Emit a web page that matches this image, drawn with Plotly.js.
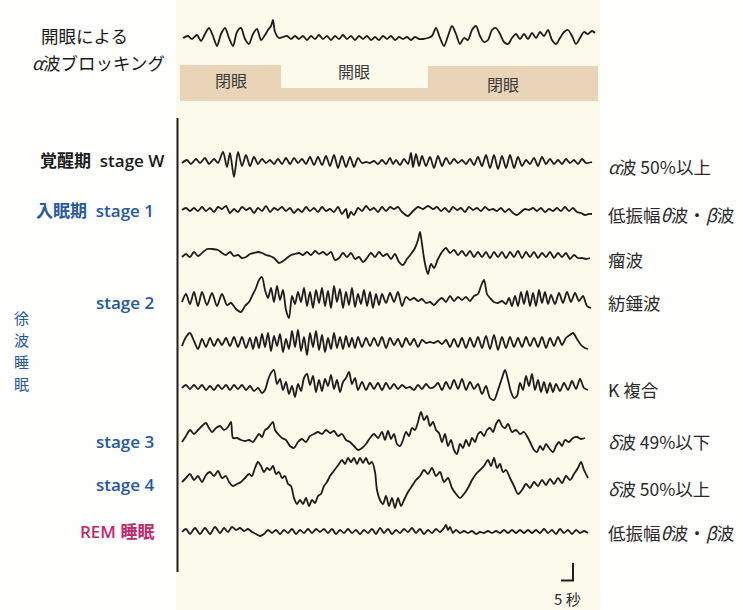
<!DOCTYPE html>
<html><head><meta charset="utf-8">
<script src="https://cdn.plot.ly/plotly-3.0.1.min.js"></script>
<style>html,body{margin:0;padding:0;background:#fefefc;}#chart{width:743px;height:610px;}</style>
</head><body><div id="chart"></div>
<script>
// Each EEG trace: [time position, deflection (up = positive)]
const eyeOpenBlocking = [[183,0],[188,2],[192,-1],[197,3],[201,-3],[205,4],[209,10],[213,2],[217,-8],[221,4],[225,10],[229,0],[233,-8],[237,6],[241,10],[245,-1],[249,-6],[253,4],[257,9],[261,-2],[265,3],[268,8],[271,12],[273,18],[275,6],[279,0],[283,1],[287,2],[291,-1],[295,2],[299,-1],[303,2],[307,-2],[311,2],[315,-1],[319,3],[323,-1],[327,2],[331,-2],[335,2],[339,-1],[343,3],[347,-1],[351,2],[355,-2],[359,2],[363,-1],[367,2],[371,-2],[375,1],[379,-2],[383,2],[387,-1],[391,2],[395,-2],[399,1],[403,-1],[407,1],[411,-2],[415,1],[419,-1],[423,-1],[428,0],[432,2],[436,10],[440,0],[444,-8],[448,2],[452,12],[456,4],[460,-6],[464,0],[468,-2],[472,8],[476,12],[480,2],[484,-4],[488,-2],[492,8],[496,10],[500,4],[504,-4],[508,-6],[512,0],[516,4],[520,-1],[524,4],[528,-1],[532,5],[536,0],[540,6],[544,2],[548,8],[552,-2],[556,-6],[560,0],[564,6],[568,8],[572,2],[576,-6],[580,0],[584,6],[588,4],[592,7],[595,5]];
const stageW = [[182,-1],[187,2],[191,-2],[196,3],[200,-1],[205,4],[209,-2],[214,3],[218,-1],[223,10],[227,-5],[230,9],[234,-15],[238,10],[242,-4],[246,7],[250,-4],[254,5],[258,-2],[262,3],[266,-1],[270,2],[274,-2],[278,3],[282,-2],[286,4],[290,-2],[294,4],[298,-1],[302,3],[306,-2],[310,5],[314,-3],[318,5],[322,-3],[326,6],[330,-4],[334,7],[338,-6],[342,6],[346,-5],[350,5],[354,-5],[358,4],[362,-1],[366,0],[370,-1],[374,1],[378,-2],[382,2],[386,-2],[390,4],[393,-2],[396,2],[400,-3],[404,3],[408,-2],[411,9],[413,-5],[416,8],[419,-4],[422,6],[426,-4],[430,5],[434,-6],[438,6],[442,-4],[446,4],[450,-2],[454,3],[458,-1],[462,2],[466,-2],[470,3],[474,-3],[478,5],[482,-4],[486,7],[490,-6],[494,7],[498,-7],[502,6],[506,-6],[510,7],[514,-6],[518,5],[522,-4],[526,2],[530,-2],[534,4],[538,-4],[542,5],[546,-2],[550,3],[554,-2],[558,2],[562,-2],[566,3],[570,-1],[574,2],[578,-2],[582,3],[586,-1],[592,0]];
const stage1 = [[182,0],[186,2],[190,-1],[194,2],[198,-1],[202,3],[206,-1],[210,2],[214,-2],[218,3],[222,1],[226,4],[230,-3],[234,1],[238,-2],[242,3],[246,0],[250,2],[254,-3],[258,2],[262,-1],[266,4],[270,-2],[274,2],[278,0],[282,3],[286,-1],[290,2],[294,-3],[298,1],[302,-2],[306,3],[310,-1],[314,2],[318,-2],[322,3],[326,-1],[330,1],[334,-2],[338,3],[342,-4],[346,1],[348,-8],[351,-2],[354,-5],[358,2],[362,-1],[366,4],[370,0],[374,2],[378,-2],[382,3],[386,-1],[390,3],[394,1],[398,3],[402,-2],[408,-6],[413,-1],[418,3],[423,1],[428,4],[433,1],[437,3],[441,-1],[445,2],[449,-2],[453,3],[457,0],[461,2],[465,-2],[469,3],[473,0],[477,2],[481,-1],[485,3],[489,0],[493,1],[497,-1],[501,2],[505,-2],[509,1],[513,-3],[517,-5],[521,-2],[525,1],[529,0],[533,2],[537,-1],[541,2],[545,-2],[549,1],[553,-1],[557,2],[561,-1],[565,3],[569,-1],[573,2],[577,-2],[581,-3],[585,-5],[589,-4],[592,-4]];
const vertexWave = [[182,-1],[186,2],[190,-1],[194,4],[198,0],[202,3],[207,7],[212,7],[218,6],[222,3],[226,1],[230,4],[234,0],[238,1],[242,-2],[246,-1],[250,2],[254,3],[258,4],[262,3],[266,1],[270,0],[274,-2],[279,-7],[283,-5],[287,-2],[291,1],[295,2],[299,3],[303,1],[307,4],[311,1],[315,5],[319,2],[323,4],[327,1],[331,4],[335,-4],[339,-2],[343,3],[347,-1],[351,3],[355,-3],[359,-1],[363,-6],[367,-2],[371,3],[375,-1],[379,4],[383,0],[387,2],[391,-3],[395,2],[399,-6],[403,-9],[407,-3],[411,2],[415,8],[418,16],[420,24],[422,12],[424,-2],[426,-12],[428,-18],[431,-8],[434,-12],[438,-3],[442,4],[446,8],[450,3],[454,6],[458,1],[462,5],[466,0],[470,5],[474,-1],[478,4],[482,-1],[486,4],[490,-2],[494,4],[498,-1],[502,4],[506,-2],[510,4],[514,-1],[518,5],[522,-2],[526,4],[530,-1],[534,4],[538,-2],[542,3],[546,-1],[550,4],[554,-2],[558,3],[562,-1],[566,3],[570,-3],[574,1],[578,-2],[582,-2],[586,-3],[590,-2]];
const spindle = [[182,-2],[186,6],[190,-4],[194,8],[198,-6],[202,8],[207,-5],[212,7],[217,-6],[222,6],[227,-5],[231,-3],[236,-9],[241,-12],[245,-6],[249,-2],[253,6],[256,12],[259,20],[262,23],[265,10],[268,2],[271,12],[274,-2],[277,14],[280,0],[283,10],[286,-10],[289,-18],[292,4],[295,-4],[298,8],[301,-2],[304,12],[307,-6],[310,8],[313,-8],[316,10],[319,-3],[322,12],[325,-6],[328,9],[331,-8],[334,14],[337,-2],[340,11],[343,-8],[346,8],[349,-5],[352,12],[355,-7],[358,6],[361,-4],[364,10],[367,-6],[370,8],[373,-8],[376,6],[379,-5],[382,6],[386,-3],[390,7],[394,-2],[398,8],[402,-6],[406,3],[410,0],[414,2],[418,-1],[422,1],[426,-3],[430,-2],[434,-5],[438,-1],[442,2],[446,-2],[450,4],[454,-1],[458,3],[462,0],[466,3],[470,-1],[474,4],[478,6],[481,14],[484,20],[487,6],[490,2],[494,-2],[498,-3],[502,-1],[506,-4],[509,2],[512,-6],[515,4],[518,-6],[521,8],[524,-4],[527,9],[530,-6],[533,7],[536,-6],[539,10],[542,-3],[545,8],[548,-4],[551,5],[555,-4],[559,7],[563,-3],[567,8],[571,-2],[575,7],[579,-1],[583,4],[587,-6],[591,-8]];
const stage2b = [[182,-3],[186,6],[190,10],[194,2],[198,-6],[202,4],[206,-4],[210,5],[214,-3],[218,4],[222,-2],[226,5],[230,-3],[234,6],[238,-4],[242,6],[246,-5],[250,5],[253,-6],[256,6],[259,-5],[262,9],[265,-4],[268,10],[271,-8],[274,7],[277,-3],[280,9],[283,-9],[286,4],[289,-6],[292,12],[295,-4],[298,13],[301,-8],[304,6],[307,-12],[310,10],[313,-4],[316,12],[319,-7],[322,8],[325,-9],[328,5],[331,-6],[334,10],[337,-5],[340,6],[343,-6],[346,7],[349,-4],[352,5],[355,-5],[358,6],[362,-4],[366,5],[370,-3],[374,5],[378,-3],[382,6],[386,-5],[390,5],[394,-2],[398,4],[402,-4],[406,5],[410,-2],[414,4],[418,-4],[422,3],[426,0],[430,1],[434,0],[438,2],[442,-1],[446,3],[450,-4],[454,4],[458,-4],[462,5],[466,-5],[470,5],[474,-4],[478,6],[482,-5],[486,7],[490,-6],[494,8],[498,-7],[502,6],[506,-5],[510,6],[514,-4],[518,5],[522,-4],[526,6],[530,-3],[534,5],[538,-4],[542,6],[546,-5],[550,5],[554,-3],[558,6],[562,-2],[566,5],[570,8],[573,10],[577,4],[581,-2],[585,-5],[588,-6]];
const kComplex = [[182,0],[186,3],[190,-1],[194,3],[198,-1],[202,3],[206,-2],[210,2],[214,-2],[218,3],[222,-1],[226,3],[230,-2],[234,3],[238,-1],[242,3],[246,-2],[250,2],[254,-3],[258,0],[262,-5],[265,-2],[268,8],[271,15],[274,18],[277,4],[280,9],[283,-2],[286,6],[289,-6],[292,2],[295,-9],[298,4],[301,-3],[304,10],[307,14],[310,3],[313,12],[316,-4],[319,8],[322,-3],[325,9],[328,2],[331,13],[334,-1],[337,8],[340,-4],[343,6],[346,10],[349,16],[352,4],[355,10],[358,-2],[362,6],[366,-2],[370,5],[374,-1],[378,5],[382,-2],[386,5],[390,-1],[394,4],[398,-1],[402,3],[406,0],[410,1],[414,-2],[418,3],[422,-1],[426,4],[430,0],[434,1],[438,5],[442,-2],[446,6],[450,-1],[454,8],[458,-1],[462,9],[466,-2],[470,6],[474,-1],[478,4],[482,-6],[486,2],[490,-10],[494,-12],[498,-2],[502,10],[505,18],[508,8],[511,-4],[514,-10],[517,-8],[520,5],[523,-2],[526,12],[529,2],[532,14],[535,-2],[538,8],[541,-4],[544,6],[547,-5],[550,5],[553,-4],[556,4],[560,-3],[564,5],[568,-2],[572,7],[576,-1],[580,9],[584,0],[588,-2]];
const stage3 = [[182,-6],[186,0],[190,6],[194,2],[198,6],[202,10],[206,13],[209,8],[212,4],[216,8],[220,10],[224,6],[228,9],[231,14],[233,-2],[237,-2],[241,-4],[245,-5],[249,-4],[253,-6],[256,-2],[259,2],[262,-1],[265,6],[268,8],[271,12],[273,14],[275,6],[278,2],[282,-2],[286,-4],[290,-10],[294,-12],[298,-6],[302,-3],[306,-6],[310,0],[314,2],[318,4],[322,2],[326,6],[330,3],[334,5],[338,0],[342,2],[346,-4],[350,-6],[354,-10],[358,-14],[362,-12],[366,-8],[370,-2],[374,2],[378,-2],[382,4],[385,-4],[388,5],[391,-3],[394,2],[397,-8],[400,-10],[403,-4],[406,4],[409,0],[412,8],[415,6],[418,14],[421,24],[424,16],[427,20],[430,10],[433,14],[436,6],[439,3],[442,-6],[445,2],[448,-10],[451,-4],[454,-14],[457,-18],[460,-8],[463,-12],[466,-4],[469,-10],[472,-2],[475,-6],[478,2],[481,4],[484,0],[487,6],[490,8],[493,4],[496,12],[499,16],[502,10],[505,8],[508,12],[512,4],[516,6],[520,2],[524,4],[528,-2],[531,-8],[534,-14],[537,-16],[540,-10],[543,-14],[546,-8],[549,-12],[553,-16],[556,-10],[559,-6],[562,-10],[565,-4],[569,-6],[573,-2],[577,-1],[581,-3],[585,-2]];
const stage4 = [[182,-2],[186,2],[190,6],[194,0],[198,4],[202,-2],[206,5],[210,8],[214,4],[218,9],[222,2],[226,4],[229,-2],[233,-6],[237,-4],[241,-2],[245,2],[249,6],[252,4],[255,12],[258,18],[261,14],[264,8],[267,12],[270,10],[273,14],[276,6],[279,8],[282,2],[285,4],[288,-4],[291,-6],[294,-18],[297,-24],[300,-20],[303,-24],[306,-18],[309,-26],[312,-20],[315,-23],[318,-16],[321,-14],[324,-6],[327,-2],[330,4],[333,8],[336,12],[339,16],[342,20],[345,16],[348,22],[351,18],[354,22],[357,16],[360,22],[363,17],[366,22],[369,16],[372,18],[375,8],[377,-10],[380,-20],[383,-24],[386,-16],[389,-26],[392,-18],[395,-28],[398,-18],[401,-26],[404,-20],[408,-12],[412,-6],[416,0],[420,4],[424,10],[428,6],[432,12],[436,4],[440,8],[444,-2],[448,2],[452,-8],[456,-14],[460,-18],[464,-14],[468,-8],[472,0],[476,6],[480,10],[484,14],[488,20],[491,14],[494,22],[497,12],[500,16],[503,8],[506,10],[510,2],[514,-6],[518,-14],[522,-10],[526,-4],[530,-8],[534,-2],[538,-6],[542,0],[546,-5],[550,1],[554,-4],[558,2],[562,-3],[566,4],[570,0],[574,6],[578,12],[581,18],[584,10],[588,2]];
const remSleep = [[182,0],[186,3],[190,-2],[195,4],[200,-2],[205,4],[210,-2],[215,5],[220,-1],[224,4],[228,0],[232,5],[236,2],[240,4],[244,1],[248,3],[252,0],[256,-2],[260,-4],[264,-2],[268,2],[272,-1],[276,2],[280,-2],[284,2],[288,-1],[292,3],[296,-2],[300,2],[304,-1],[308,3],[312,-1],[316,3],[320,0],[324,3],[328,-1],[332,3],[336,-2],[340,2],[344,-1],[348,3],[352,-1],[356,2],[360,-2],[364,2],[368,-1],[372,3],[376,-2],[380,4],[384,-1],[388,3],[392,-2],[396,2],[400,-1],[404,3],[408,0],[412,4],[416,-1],[420,3],[424,-2],[428,2],[432,-1],[436,3],[440,0],[444,4],[446,7],[448,2],[450,5],[453,-1],[456,2],[460,-1],[464,1],[468,-1],[472,1],[476,-2],[480,0],[484,-1],[488,1],[492,-1],[496,1],[500,-1],[504,2],[508,-1],[512,2],[516,-1],[520,2],[524,-1],[528,2],[532,-1],[536,2],[540,-1],[544,3],[548,-1],[552,2],[556,-2],[560,3],[564,-1],[568,2],[572,-2],[576,2],[580,-1],[584,1],[588,-1]];

const stageLabels = ['覚醒期  stage W','入眠期  stage 1','stage 2','stage 3','stage 4','REM 睡眠'];
const waveLabels = ['<i>α</i>波 50%以上','低振幅<i>θ</i>波・<i>β</i>波','瘤波','紡錘波','','K 複合','<i>δ</i>波 49%以下','<i>δ</i>波 50%以上','低振幅<i>θ</i>波・<i>β</i>波'];
const panelLabels = ['閉眼','開眼','閉眼'];
const sideLabel = ['徐','波','睡','眠'];

// ---- layout (positions & styles) ----
const series = [eyeOpenBlocking, stageW, stage1, vertexWave, spindle, stage2b, kComplex, stage3, stage4, remSleep];
const baselines = [38, 162, 210, 256, 300, 343, 388, 436, 480, 532];
const traces = series.map((pts, i) => ({
  type: 'scatter', mode: 'lines',
  x: pts.map(p => p[0]),
  y: pts.map(p => baselines[i] - p[1]),
  line: {color: '#1c1c1c', width: 1.8, shape: 'spline', smoothing: 0.8},
  hoverinfo: 'skip', showlegend: false
}));

const JP = '"Noto Sans CJK JP", "Noto Sans", sans-serif';
const LAB = '"Open Sans", "Noto Sans CJK JP", sans-serif';
const blue = '#2558a8', magenta = '#c2276a';
const ann = [];
function t(text, x, y, opts) { ann.push(Object.assign({text, x, y, xref:'x', yref:'y', showarrow:false, xanchor:'left', yanchor:'middle', font:{family:JP, size:15, color:'#1e1e1e'}}, opts||{})); }
t('開眼による', 39, 35, {font:{family:JP,size:17.5,color:'#1a1a1a'}});
t('<i>α</i>波ブロッキング', 30, 62, {font:{family:JP,size:17.5,color:'#1a1a1a'}});
const panelPos = [[231,80],[354,71],[503,84]];
panelLabels.forEach((s,i)=>t(s, panelPos[i][0], panelPos[i][1], {xanchor:'center', font:{family:JP,size:16,color:'#3a3a3a'}}));
const stageY = [160, 210, 302, 441, 484, 531];
const stageCol = ['#1a1a1a', blue, blue, blue, blue, magenta];
stageLabels.forEach((s,i)=>t(s, i===0?166:156, stageY[i], {xanchor:'right', font:{family:LAB,size:17,color:stageCol[i],weight:600}}));
const sideY = [317, 339, 361, 383];
sideLabel.forEach((s,i)=>t(s, 21, sideY[i], {xanchor:'center', font:{family:JP,size:15,color:blue}}));
const waveY = [166, 214, 259, 302, 343, 389, 441, 488, 532];
waveLabels.forEach((s,i)=>{ if (s) t(s, 606, waveY[i], {font:{family:JP,size:17.5,color:'#2a2a2a'}}); });
t('5 秒', 567, 598, {xanchor:'center', font:{family:JP,size:15,color:'#2a2a2a'}});

const shapes = [
  {type:'rect', xref:'x', yref:'y', x0:176, x1:600, y0:0, y1:610, fillcolor:'#fcfaeb', line:{width:0}, layer:'below'},
  {type:'path', xref:'x', yref:'y', path:'M180,65 L281,65 L281,88 L428,88 L428,66 L598,66 L598,101 L180,101 Z', fillcolor:'#e9d4b8', line:{width:0}, layer:'below'},
  {type:'line', xref:'x', yref:'y', x0:177.5, x1:177.5, y0:118, y1:572, line:{color:'#1e1e1e', width:2}},
  {type:'line', xref:'x', yref:'y', x0:573, x1:573, y0:563, y1:581, line:{color:'#1e1e1e', width:2}},
  {type:'line', xref:'x', yref:'y', x0:561, x1:574, y0:580.5, y1:580.5, line:{color:'#1e1e1e', width:2}}
];

const layout = {
  width:743, height:610, margin:{l:0,r:0,t:0,b:0},
  paper_bgcolor:'#fefefc', plot_bgcolor:'rgba(0,0,0,0)',
  xaxis:{range:[0,743], visible:false, fixedrange:true},
  yaxis:{range:[610,0], visible:false, fixedrange:true},
  annotations: ann, shapes: shapes, showlegend:false
};
Plotly.newPlot('chart', traces, layout, {staticPlot:true, displayModeBar:false});
</script></body></html>
